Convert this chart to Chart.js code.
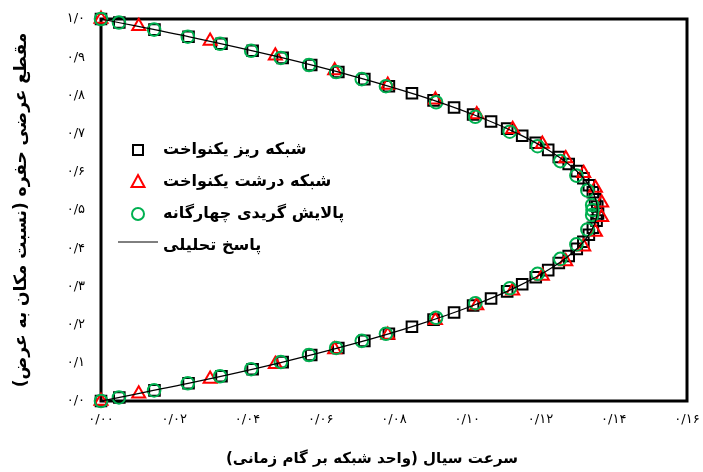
<!DOCTYPE html>
<html>
<head>
<meta charset="utf-8">
<script src="https://cdn.jsdelivr.net/npm/chart.js@4.4.1/dist/chart.umd.min.js"></script>
<style>
  html, body { margin: 0; padding: 0; background: #fff; }
  #wrap { width: 703px; height: 472px; }
</style>
</head>
<body>
<div id="wrap"><canvas id="chart_velocityProfile"></canvas></div>
<script>
// fine uniform grid (squares)
var fineY = [0, 0.0093, 0.0278, 0.0463, 0.0648, 0.0833, 0.1019, 0.1204, 0.1389, 0.1574, 0.1759, 0.1944, 0.2130, 0.2315, 0.2500, 0.2685, 0.2870, 0.3056, 0.3241, 0.3426, 0.3611, 0.3796, 0.3981, 0.4167, 0.4352, 0.4537, 0.4722, 0.4907,
             0.5093, 0.5278, 0.5463, 0.5648, 0.5833, 0.6019, 0.6204, 0.6389, 0.6574, 0.6759, 0.6944, 0.7130, 0.7315, 0.7500, 0.7685, 0.7870, 0.8056, 0.8241, 0.8426, 0.8611, 0.8796, 0.8981, 0.9167, 0.9352, 0.9537, 0.9722, 0.9907, 1];
var fineU = [0, 0.0050, 0.0146, 0.0239, 0.0329, 0.0414, 0.0496, 0.0574, 0.0648, 0.0719, 0.0786, 0.0849, 0.0908, 0.0964, 0.1016, 0.1065, 0.1109, 0.1150, 0.1187, 0.1221, 0.1250, 0.1277, 0.1299, 0.1317, 0.1332, 0.1343, 0.1353, 0.1357,
             0.1355, 0.1349, 0.1343, 0.1332, 0.1317, 0.1299, 0.1277, 0.1250, 0.1221, 0.1187, 0.1150, 0.1109, 0.1065, 0.1016, 0.0964, 0.0908, 0.0849, 0.0786, 0.0719, 0.0648, 0.0574, 0.0496, 0.0414, 0.0329, 0.0239, 0.0146, 0.0050, 0];

// coarse uniform grid (triangles)
var coarseY = [0, 0.0192, 0.0577, 0.0962, 0.1346, 0.1731, 0.2115, 0.2500, 0.2885, 0.3269, 0.3654, 0.4038, 0.4423, 0.4808,
               0.5192, 0.5577, 0.5962, 0.6346, 0.6731, 0.7115, 0.7500, 0.7885, 0.8269, 0.8654, 0.9038, 0.9423, 0.9808, 1];
var coarseU = [0, 0.0103, 0.0298, 0.0476, 0.0638, 0.0783, 0.0913, 0.1026, 0.1124, 0.1205, 0.1269, 0.1318, 0.1350, 0.1367,
               0.1367, 0.1350, 0.1318, 0.1269, 0.1205, 0.1124, 0.1026, 0.0913, 0.0783, 0.0638, 0.0476, 0.0298, 0.0103, 0];

// quad-tree refined grid (circles)
var quadY = [0, 0.0093, 0.0278, 0.0463, 0.0648, 0.0833, 0.1019, 0.1204, 0.1389, 0.1574, 0.1759,
             0.218, 0.256, 0.295, 0.333, 0.372, 0.410, 0.449, 0.487, 0.500, 0.513, 0.551, 0.590, 0.628, 0.667, 0.705, 0.744, 0.782,
             0.8241, 0.8426, 0.8611, 0.8796, 0.8981, 0.9167, 0.9352, 0.9537, 0.9722, 0.9907, 1];
var quadU = [0, 0.0049, 0.0145, 0.0237, 0.0325, 0.0410, 0.0491, 0.0568, 0.0642, 0.0712, 0.0778,
             0.0915, 0.1022, 0.1116, 0.1192, 0.1254, 0.1298, 0.1328, 0.1341, 0.1342, 0.1341, 0.1328, 0.1298, 0.1254, 0.1192, 0.1116, 0.1022, 0.0915,
             0.0778, 0.0712, 0.0642, 0.0568, 0.0491, 0.0410, 0.0325, 0.0237, 0.0145, 0.0049, 0];

// analytical solution
var exactY = [0, 0.05, 0.10, 0.15, 0.20, 0.25, 0.30, 0.35, 0.40, 0.45, 0.50, 0.55, 0.60, 0.65, 0.70, 0.75, 0.80, 0.85, 0.90, 0.95, 1];
var exactU = [0, 0.0257, 0.0488, 0.0691, 0.0867, 0.1016, 0.1138, 0.1233, 0.1301, 0.1341, 0.1355, 0.1341, 0.1301, 0.1233, 0.1138, 0.1016, 0.0867, 0.0691, 0.0488, 0.0257, 0];

var seriesLabels = ['شبکه ریز یکنواخت', 'شبکه درشت یکنواخت', 'پالایش گریدی چهارگانه', 'پاسخ تحلیلی'];
var xTitle = 'سرعت سیال (واحد شبکه بر گام زمانی)';
var yTitle = 'مقطع عرضی حفره (نسبت مکان به عرض)';

var FONT = "'DejaVu Sans', sans-serif";

function toPoints(us, ys) {
    return us.map(function(u, i) { return { x: u, y: ys[i] }; });
}
function faDigits(s) {
    return s.replace(/\d/g, function(d) { return '۰۱۲۳۴۵۶۷۸۹'[d]; }).replace('.', '/');
}

var frameAndLegend = {
    id: 'frameAndLegend',
    beforeDraw: function(chart) {
        var ctx = chart.ctx;
        ctx.save();
        ctx.fillStyle = 'white';
        ctx.fillRect(0, 0, chart.width, chart.height);
        ctx.restore();
    },
    beforeDatasetsDraw: function(chart) {
        var ctx = chart.ctx, a = chart.chartArea;
        ctx.save();
        ctx.strokeStyle = '#000';
        ctx.lineWidth = 3;
        ctx.strokeRect(a.left, a.top, a.right - a.left, a.bottom - a.top);
        ctx.restore();
    },
    afterDraw: function(chart) {
        var ctx = chart.ctx, a = chart.chartArea;
        ctx.save();
        ctx.fillStyle = '#000';
        ctx.direction = 'rtl';
        ctx.textAlign = 'center';
        ctx.textBaseline = 'middle';
        // x title
        ctx.font = 'bold 15px ' + FONT;
        ctx.fillText(xTitle, 372, 459);
        // y title
        ctx.font = 'bold 17px ' + FONT;
        ctx.save();
        ctx.translate(22, (a.top + a.bottom) / 2);
        ctx.rotate(-Math.PI / 2);
        ctx.fillText(yTitle, 0, 0);
        ctx.restore();

        // legend
        var rows = [150, 182, 214, 246];
        var mx = 138, tx = 163;
        ctx.textAlign = 'left';
        ctx.font = 'bold 16px ' + FONT;
        seriesLabels.forEach(function(t, i) {
            ctx.fillStyle = '#000';
            ctx.fillText(t, tx, rows[i]);
        });
        ctx.lineWidth = 2;
        // square
        ctx.strokeStyle = '#000';
        ctx.strokeRect(mx - 5, rows[0] - 5, 10, 10);
        // triangle
        ctx.strokeStyle = '#ff0000';
        ctx.beginPath();
        ctx.moveTo(mx, rows[1] - 7);
        ctx.lineTo(mx + 6.5, rows[1] + 5);
        ctx.lineTo(mx - 6.5, rows[1] + 5);
        ctx.closePath();
        ctx.stroke();
        // circle
        ctx.strokeStyle = '#00b050';
        ctx.beginPath();
        ctx.arc(mx, rows[2], 6, 0, Math.PI * 2);
        ctx.stroke();
        // line
        ctx.strokeStyle = '#000';
        ctx.lineWidth = 1;
        ctx.beginPath();
        ctx.moveTo(118, rows[3] - 4);
        ctx.lineTo(158, rows[3] - 4);
        ctx.stroke();
        ctx.restore();
    }
};

var chart_velocityProfile = new Chart(document.getElementById('chart_velocityProfile'), {
    type: 'scatter',
    data: {
        datasets: [
            {
                label: seriesLabels[3],
                data: toPoints(exactU, exactY),
                showLine: true,
                tension: 0.35,
                pointRadius: 0,
                borderColor: '#000',
                borderWidth: 1.2,
                clip: false,
                order: 0
            },
            {
                label: seriesLabels[2],
                data: toPoints(quadU, quadY),
                pointStyle: 'circle',
                pointRadius: 6.3,
                borderWidth: 2,
                borderColor: '#00b050',
                backgroundColor: 'rgba(0,0,0,0)',
                clip: false,
                order: 1
            },
            {
                label: seriesLabels[1],
                data: toPoints(coarseU, coarseY),
                pointStyle: 'triangle',
                pointRadius: 7.5,
                borderWidth: 2,
                borderColor: '#ff0000',
                backgroundColor: 'rgba(0,0,0,0)',
                clip: false,
                order: 2
            },
            {
                label: seriesLabels[0],
                data: toPoints(fineU, fineY),
                pointStyle: 'rect',
                pointRadius: 7.5,
                borderWidth: 2,
                borderColor: '#000',
                backgroundColor: 'rgba(0,0,0,0)',
                clip: false,
                order: 3
            }
        ]
    },
    options: {
        animation: false,
        responsive: true,
        maintainAspectRatio: false,
        layout: { padding: { top: 19, right: 16, left: 0, bottom: 0 } },
        plugins: {
            legend: { display: false },
            tooltip: { enabled: false }
        },
        scales: {
            x: {
                type: 'linear',
                min: 0,
                max: 0.16,
                grid: { display: false, drawTicks: false },
                border: { display: false },
                afterFit: function(scale) {
                    scale.height = 71;
                    scale.paddingLeft = 0;
                    scale.paddingRight = 0;
                },
                ticks: {
                    stepSize: 0.02,
                    padding: 11,
                    color: '#000',
                    font: { family: FONT, size: 13 },
                    maxRotation: 0,
                    callback: function(value) { return faDigits(Number(value).toFixed(2)); }
                }
            },
            y: {
                type: 'linear',
                min: 0,
                max: 1,
                grid: { display: false, drawTicks: false },
                border: { display: false },
                afterFit: function(scale) {
                    scale.width = 101;
                    scale.paddingTop = 0;
                    scale.paddingBottom = 0;
                },
                ticks: {
                    stepSize: 0.1,
                    padding: 16,
                    color: '#000',
                    font: { family: FONT, size: 13 },
                    callback: function(value) { return faDigits(Number(value).toFixed(1)); }
                }
            }
        }
    },
    plugins: [frameAndLegend]
});
</script>
</body>
</html>
